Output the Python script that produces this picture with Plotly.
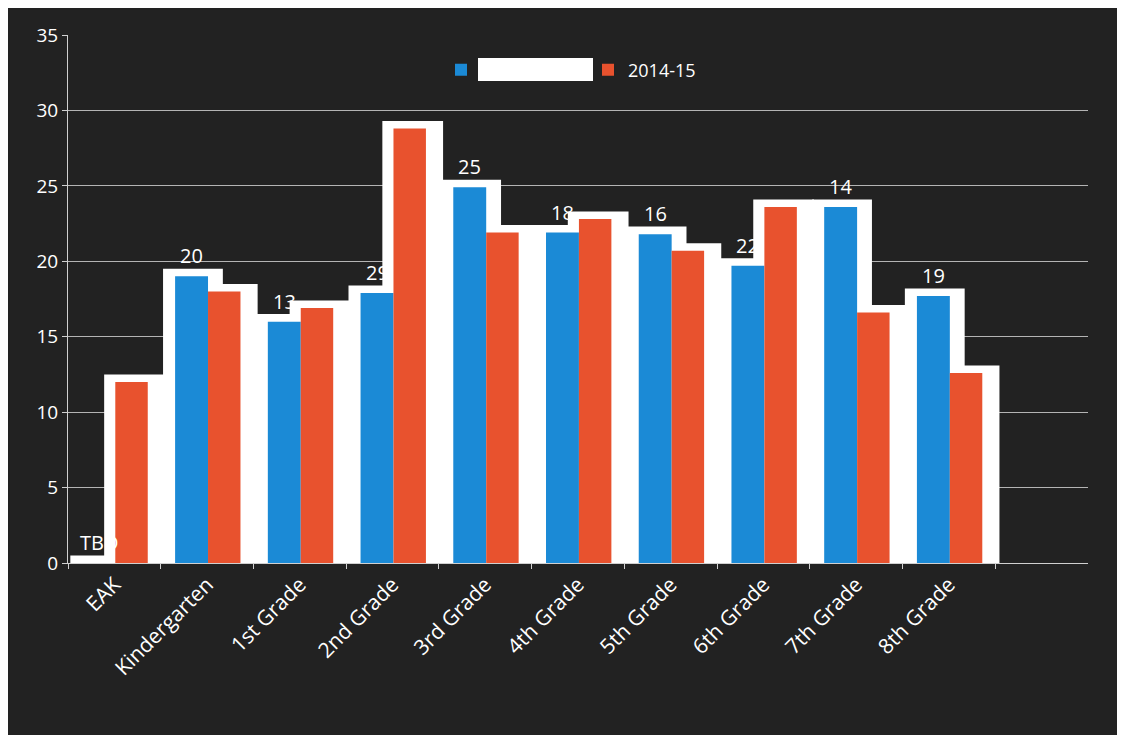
import plotly.graph_objects as go

categories = ["EAK", "Kindergarten", "1st Grade", "2nd Grade", "3rd Grade",
              "4th Grade", "5th Grade", "6th Grade", "7th Grade", "8th Grade"]
series1_name = "2015-16"
series2_name = "2014-15"
series1 = [0, 19.0, 16.0, 17.9, 24.9, 21.9, 21.8, 19.7, 23.6, 17.7]
series2 = [12.0, 18.0, 16.9, 28.8, 21.9, 22.8, 20.7, 23.6, 16.6, 12.6]
labels = ["TBD", "20", "13", "29", "25", "18", "16", "22", "14", "19"]
yticks = [0, 5, 10, 15, 20, 25, 30, 35]

BLUE = "#1b8ad6"
RED = "#e8522e"
FONT = "Open Sans"

glow_pad = 0.5
glow1 = [v + glow_pad for v in series1]
glow2 = [v + glow_pad for v in series2]

fig = go.Figure()
# white "glow" boxes behind bars
fig.add_trace(go.Bar(x=categories, y=glow1, offset=-0.475, width=0.645,
                     marker=dict(color="white", line=dict(width=0)),
                     showlegend=False, hoverinfo="skip"))
fig.add_trace(go.Bar(x=categories, y=glow2, offset=-0.11, width=0.655,
                     marker=dict(color="white", line=dict(width=0)),
                     showlegend=False, hoverinfo="skip"))
fig.add_trace(go.Bar(x=categories, y=series1, offset=-0.345, width=0.355,
                     name='<span style="color:white">' + series1_name + '</span>',
                     marker=dict(color=BLUE, line=dict(width=0))))
fig.add_trace(go.Bar(x=categories, y=series2, offset=0.01, width=0.35,
                     name=series2_name,
                     marker=dict(color=RED, line=dict(width=0))))

annotations = []
for c, v, t in zip(categories, series1, labels):
    annotations.append(dict(x=c, y=v, text=t, showarrow=False, xref="x", yref="y",
                            xshift=-15.5, yshift=5, yanchor="bottom",
                            font=dict(family=FONT, size=20, color="white")))

L, R, T, B = 68, 34, 35, 182
PW, PH = 1122 - L - R, 745 - T - B

def px_x(p):
    return (p - L) / PW

def px_y(p):
    return (745 - B - p) / PH

shapes = [
    # dark chart frame inside the white scan border
    dict(type="rect", xref="paper", yref="paper", layer="below",
         x0=px_x(8), x1=px_x(1117), y0=px_y(735), y1=px_y(8),
         fillcolor="#222222", line=dict(width=0)),
    # white box over the first legend label (redacted)
    dict(type="rect", xref="paper", yref="paper", layer="above",
         x0=px_x(478), x1=px_x(593), y0=px_y(81), y1=px_y(58),
         fillcolor="white", line=dict(width=0)),
]

fig.update_layout(
    width=1122, height=745,
    margin=dict(l=L, r=R, t=T, b=B),
    barmode="overlay",
    paper_bgcolor="white",
    plot_bgcolor="#3e3e3e",
    font=dict(family=FONT, color="white", size=18),
    showlegend=True,
    legend=dict(orientation="h", x=px_x(441), y=px_y(70), xanchor="left", yanchor="middle",
                bgcolor="rgba(0,0,0,0)", font=dict(family=FONT, size=18, color="white"),
                entrywidth=102, entrywidthmode="pixels", traceorder="normal"),
    annotations=annotations,
    shapes=shapes,
    xaxis=dict(type="category", categoryorder="array", categoryarray=categories,
               range=[-0.5, 10.5], tickangle=-45, showgrid=False,
               showline=True, linecolor="#d0d0d0", linewidth=1,
               ticks="outside", tickson="boundaries", ticklen=5, tickcolor="#d0d0d0",
               tickfont=dict(family=FONT, size=21, color="white")),
    yaxis=dict(range=[0, 35], tickvals=yticks, showgrid=True, gridcolor="#b4b4b4",
               gridwidth=1, showline=True, linecolor="#d0d0d0", linewidth=1,
               ticks="outside", ticklen=5, tickcolor="#d0d0d0", zeroline=False,
               tickfont=dict(family=FONT, size=19, color="white")),
)

fig.write_html("out.html")
